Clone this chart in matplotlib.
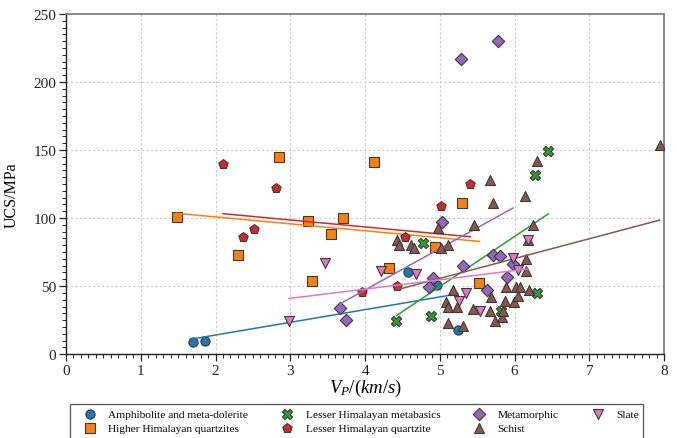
import numpy as np
import matplotlib
matplotlib.use("Agg")
import matplotlib.pyplot as plt
from matplotlib.patches import Rectangle
from matplotlib.ticker import MultipleLocator

plt.rcParams["font.family"] = ["Liberation Serif", "DejaVu Serif"]
plt.rcParams["mathtext.fontset"] = "custom"
plt.rcParams["mathtext.rm"] = "Liberation Serif"
plt.rcParams["mathtext.it"] = "Liberation Serif:italic"

# P-wave velocity (km/s) and UCS (MPa) per rock group
amph_vp = [1.70, 1.86, 4.57, 4.96, 5.24]
amph_ucs = [9, 10, 60, 51, 18]

hhq_vp = [1.48, 2.85, 2.30, 3.23, 3.29, 3.70, 3.55, 4.12, 4.32, 4.94, 5.29, 5.53]
hhq_ucs = [101, 145, 73, 98, 54, 100, 88, 141, 63, 79, 111, 52]

lhm_vp = [4.42, 4.88, 4.78, 5.82, 6.27, 6.45, 6.30]
lhm_ucs = [24, 28, 82, 32, 132, 149, 45]

lhq_vp = [2.10, 2.81, 2.51, 2.37, 4.53, 3.96, 4.43, 5.01, 5.41]
lhq_ucs = [140, 122, 92, 86, 86, 46, 50, 109, 125]

meta_vp = [5.28, 5.78, 3.66, 3.75, 5.03, 4.91, 4.86, 5.31, 5.63, 5.71, 5.80, 5.98, 5.90]
meta_ucs = [217, 230, 34, 25, 97, 56, 49, 65, 47, 73, 72, 66, 57]

schist_vp = [4.43, 4.45, 4.61, 4.65, 4.98, 5.02, 5.11, 5.46, 5.67, 5.71, 6.14, 6.30,
             6.25, 6.18, 6.15, 6.15, 5.17, 5.08, 5.11, 5.23, 5.44, 5.68, 5.67, 5.74,
             5.83, 5.85, 5.87, 5.89, 6.02, 6.07, 6.19, 5.99, 6.05, 5.11, 5.31, 7.94]
schist_ucs = [84, 80, 80, 78, 93, 78, 80, 95, 128, 111, 116, 142,
              95, 84, 70, 61, 47, 38, 35, 35, 33, 42, 32, 24,
              27, 32, 39, 49, 49, 49, 47, 38, 43, 23, 21, 154]

slate_vp = [2.98, 3.47, 4.21, 4.68, 5.35, 5.25, 5.54, 6.18, 5.98, 6.05]
slate_ucs = [24, 67, 61, 59, 45, 39, 32, 84, 71, 62]

groups = [
    ("Amphibolite and meta-dolerite", amph_vp, amph_ucs, "#1f77b4", "o", 44),
    ("Higher Himalayan quartzites", hhq_vp, hhq_ucs, "#ff7f0e", "s", 44),
    ("Lesser Himalayan metabasics", lhm_vp, lhm_ucs, "#2ca02c", "X", 55),
    ("Lesser Himalayan quartzite", lhq_vp, lhq_ucs, "#d62728", "p", 50),
    ("Metamorphic", meta_vp, meta_ucs, "#9467bd", "D", 40),
    ("Schist", schist_vp, schist_ucs, "#8c564b", "^", 52),
    ("Slate", slate_vp, slate_ucs, "#e377c2", "v", 52),
]

W, H = 677, 439
fig = plt.figure(figsize=(W / 100, H / 100), dpi=100)
ax = fig.add_axes([0.0975, 0.191, 0.8835, 0.775])

handles = []
for name, vp, ucs, color, marker, size in groups:
    vp = np.asarray(vp, float)
    ucs = np.asarray(ucs, float)
    h = ax.scatter(vp, ucs, s=size, marker=marker, facecolor=color,
                   edgecolor="#3a3a3a", linewidth=0.8, zorder=3, label=name)
    handles.append(h)
    k, b = np.polyfit(vp, ucs, 1)
    xs = np.array([vp.min(), vp.max()])
    ax.plot(xs, k * xs + b, color=color, linewidth=1.1, zorder=3)

ax.set_xlim(0, 8)
ax.set_ylim(0, 250)
ax.xaxis.set_major_locator(MultipleLocator(1))
ax.xaxis.set_minor_locator(MultipleLocator(0.1))
ax.yaxis.set_major_locator(MultipleLocator(50))
ax.yaxis.set_minor_locator(MultipleLocator(5))
ax.tick_params(which="both", direction="out", labelsize=11, colors="#222222")
ax.tick_params(which="major", length=5, width=0.9)
ax.tick_params(which="minor", length=3, width=0.7)
ax.tick_params(axis="x", pad=2)
ax.tick_params(axis="y", pad=2)
ax.grid(True, which="major", color="#cccccc", linestyle=(0, (2, 2)), linewidth=0.8)
ax.set_axisbelow(True)

for side in ("left", "bottom"):
    ax.spines[side].set_color("#222222")
    ax.spines[side].set_linewidth(1.0)
for side in ("top", "right"):
    ax.spines[side].set_color("#808080")
    ax.spines[side].set_linewidth(1.3)

ax.set_ylabel("UCS/MPa", fontsize=11.5)
ax.yaxis.set_label_coords(-0.077, 0.47)
ax.set_xlabel(r"$V_P/(km/s)$", fontsize=13.5, labelpad=0)

leg = fig.legend(handles=handles, loc="upper left", bbox_to_anchor=(70 / W, 1 - 407 / H),
                 bbox_transform=fig.transFigure, ncol=4, fontsize=8.2,
                 frameon=False, borderaxespad=0, borderpad=0.3, handlelength=2.9,
                 handletextpad=0.15, columnspacing=2.0, labelspacing=0.3,
                 scatterpoints=1)

# legend box running past the lower edge of the figure
fig.patches.append(Rectangle((70 / W, -0.05), (643 - 70) / W, (1 - 405 / H) + 0.05,
                             transform=fig.transFigure, facecolor="none",
                             edgecolor="#555555", linewidth=0.9, zorder=0))

fig.savefig("out.png", dpi=100)
